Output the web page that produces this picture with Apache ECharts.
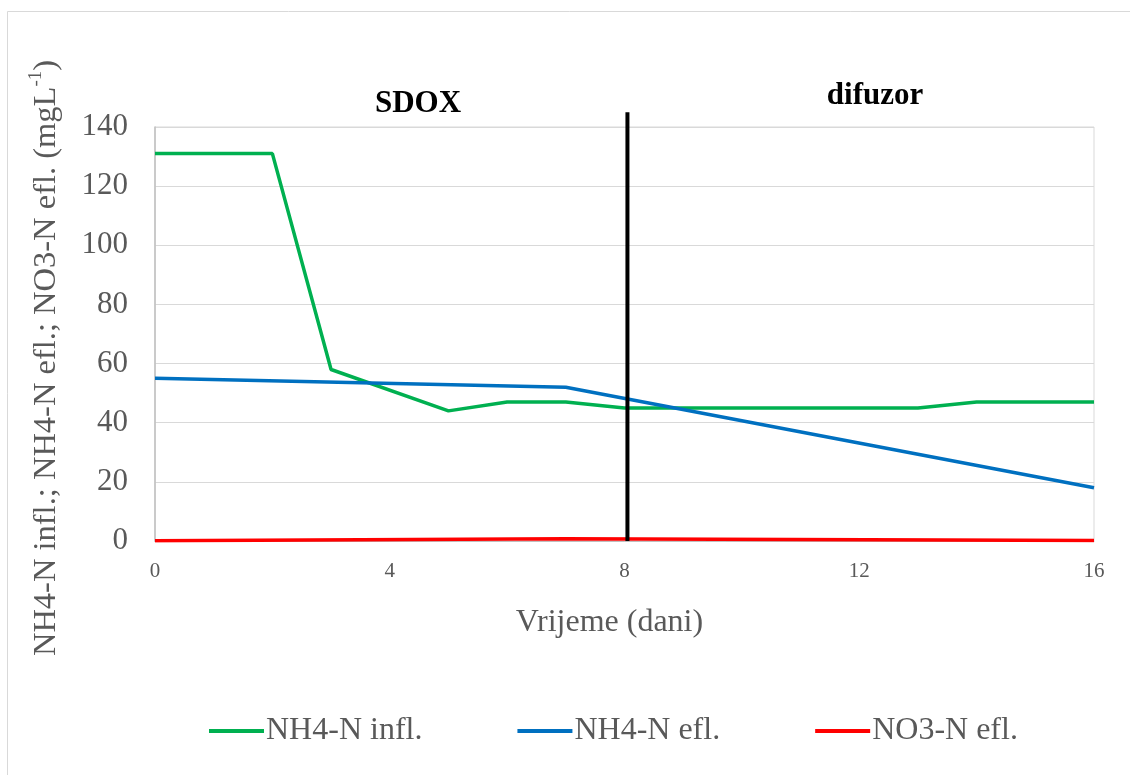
<!DOCTYPE html>
<html>
<head>
<meta charset="utf-8">
<script src="https://cdn.jsdelivr.net/npm/echarts@6/dist/echarts.min.js"></script>
<style>
  html, body { margin: 0; padding: 0; background: #fff; }
  #chart { width: 1130px; height: 775px; }
</style>
</head>
<body>
<div id="chart"></div>
<script>
// Time (days) and nitrogen concentrations (mg/L)
const nh4InflDays = [0, 2, 3, 5, 6, 7, 8, 13, 14, 16];
const nh4InflValues = [131, 131, 58, 44, 47, 47, 45, 45, 47, 47];
const nh4EflDays = [0, 7, 16];
const nh4EflValues = [55, 52, 18];
const no3EflDays = [0, 7, 16];
const no3EflValues = [0.1, 0.8, 0.2];
const seriesNames = ['NH4-N infl.', 'NH4-N efl.', 'NO3-N efl.'];
const xTicks = [0, 4, 8, 12, 16];
const yTicks = [0, 20, 40, 60, 80, 100, 120, 140];
// Phase boundary (SDOX → difuzor)
const phaseSwitchDay = 8.05;
const phaseLineTop = 145;
const phaseLabels = ['SDOX', 'difuzor'];

const pairs = (xs, ys) => xs.map((x, i) => [x, ys[i]]);
const serif = '"Liberation Serif", "Times New Roman", serif';
const grey = '#595959';

const chart = echarts.init(document.getElementById('chart'));
chart.setOption({
  animation: false,
  backgroundColor: '#fff',
  grid: {
    left: 155, right: 36, top: 127, bottom: 234,
    show: true, borderColor: '#d9d9d9', borderWidth: 1
  },
  xAxis: {
    type: 'value',
    min: xTicks[0], max: xTicks[xTicks.length - 1],
    interval: xTicks[1] - xTicks[0],
    name: 'Vrijeme (dani)',
    nameLocation: 'middle',
    nameGap: 66,
    nameTextStyle: { fontFamily: serif, fontSize: 32, color: grey, padding: [0, 30, 0, 0] },
    axisLine: { show: true, lineStyle: { color: '#bfbfbf', width: 1 } },
    axisTick: { show: false },
    axisLabel: { fontFamily: serif, fontSize: 21, color: grey, margin: 20 },
    splitLine: { show: false }
  },
  yAxis: {
    type: 'value',
    min: yTicks[0], max: yTicks[yTicks.length - 1],
    interval: yTicks[1] - yTicks[0],
    axisLine: { show: true, lineStyle: { color: '#bfbfbf', width: 1.5 } },
    axisTick: { show: false },
    axisLabel: { fontFamily: serif, fontSize: 31, color: grey, margin: 27 },
    splitLine: { show: true, lineStyle: { color: '#d9d9d9', width: 1 } }
  },
  legend: {
    top: 710,
    left: 204,
    itemWidth: 55,
    itemHeight: 4,
    itemGap: 95,
    textStyle: { fontFamily: serif, fontSize: 32, color: grey, padding: [0, 0, 0, -3] },
    data: seriesNames.map(n => ({ name: n, icon: 'rect' }))
  },
  graphic: [
    {
      type: 'rect', silent: true, z: -1,
      shape: { x: 7.5, y: 11.5, width: 1200, height: 900 },
      style: { fill: 'none', stroke: '#d9d9d9', lineWidth: 1 }
    },
    {
      type: 'text', silent: true, z: 100,
      x: 45, y: 358, rotation: Math.PI / 2,
      style: {
        x: 0, y: 0,
        text: '{m|NH4-N infl.; NH4-N efl.; NO3-N efl. (mgL}{s|-1}{m|)}',
        align: 'center', verticalAlign: 'middle',
        rich: {
          m: { fontFamily: serif, fontSize: 32.5, fill: grey, verticalAlign: 'bottom', lineHeight: 36 },
          s: { fontFamily: serif, fontSize: 19, fill: grey, verticalAlign: 'top', lineHeight: 36 }
        }
      }
    },
    {
      type: 'text', silent: true, z: 100, x: 418, y: 119,
      style: { text: phaseLabels[0], fontFamily: serif, fontSize: 31, fontWeight: 'bold',
               fill: '#000', align: 'center', verticalAlign: 'bottom' }
    },
    {
      type: 'text', silent: true, z: 100, x: 875, y: 111,
      style: { text: phaseLabels[1], fontFamily: serif, fontSize: 31, fontWeight: 'bold',
               fill: '#000', align: 'center', verticalAlign: 'bottom' }
    }
  ],
  series: [
    {
      name: seriesNames[0], type: 'line', symbol: 'none',
      data: pairs(nh4InflDays, nh4InflValues),
      itemStyle: { color: '#00b050' },
      lineStyle: { color: '#00b050', width: 3.5 }, z: 3
    },
    {
      name: seriesNames[1], type: 'line', symbol: 'none',
      data: pairs(nh4EflDays, nh4EflValues),
      itemStyle: { color: '#0070c0' },
      lineStyle: { color: '#0070c0', width: 3.5 }, z: 4
    },
    {
      name: seriesNames[2], type: 'line', symbol: 'none',
      data: pairs(no3EflDays, no3EflValues),
      itemStyle: { color: '#ff0000' },
      lineStyle: { color: '#ff0000', width: 3.5 }, z: 5
    },
    {
      name: 'phase', type: 'line', symbol: 'none', clip: false,
      data: [[phaseSwitchDay, 0], [phaseSwitchDay, phaseLineTop]],
      lineStyle: { color: '#000', width: 4 }, z: 6,
      silent: true
    }
  ]
});
</script>
</body>
</html>
